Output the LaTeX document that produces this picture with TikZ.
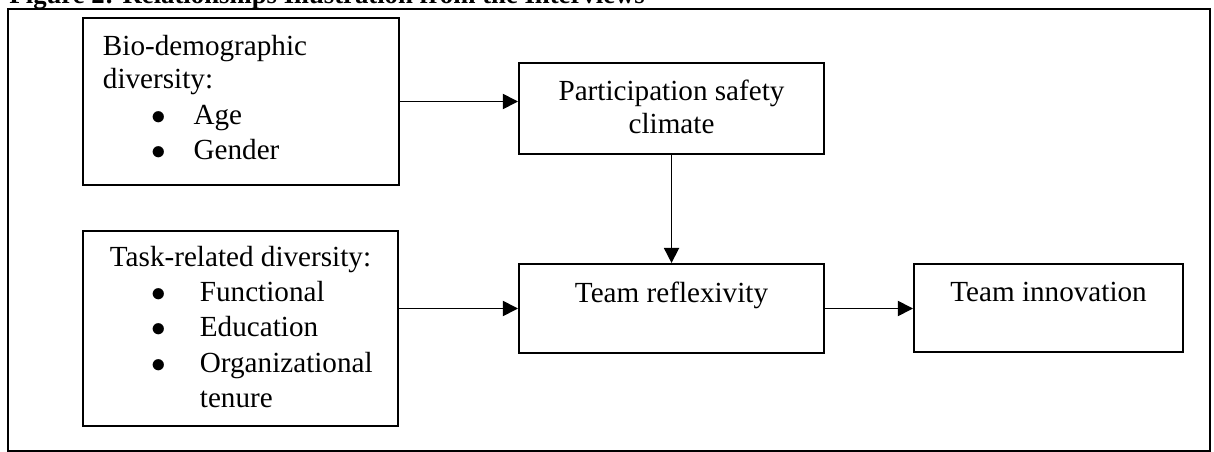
\documentclass[tikz,border=0pt]{standalone}
\usepackage{fontspec}
\setmainfont{Liberation Serif}
\usetikzlibrary{arrows.meta}

\newcommand{\bul}[2]{\makebox[#1][l]{\hspace*{28.1pt}$\bullet$}#2}

\begin{document}
\begin{tikzpicture}[x=0.4115pt,y=-0.4115pt]
  \tikzstyle{blk}=[draw,line width=0.85pt,inner sep=0pt,anchor=north west,font=\fontsize{12}{14.6}\selectfont]
  \tikzstyle{arr}=[-{Triangle[length=6.2pt,width=6.2pt]},line width=0.7pt]
  \useasboundingbox (0,0) rectangle (1214,452);

  \node[anchor=base west,inner sep=0pt,font=\fontsize{11}{13}\selectfont\bfseries] (title) at (9,3.5)
    {Figure 2: Relationships Illustration from the Interviews};
  \draw[line width=0.7pt] (8,9) rectangle (1210,451);

  % left column
  \node[blk,text height=15.6pt,text depth=53.1pt] (bio) at (82,17)
    {\parbox[t]{130pt}{\hspace*{8.2pt}Bio-demographic\\[-1.4pt]
     \hspace*{8.2pt}diversity:\\[0.6pt]
     \bul{45.5pt}{Age}\\[-0.2pt]
     \bul{45.5pt}{Gender}}};
  \node[blk,text height=14.4pt,text depth=65.8pt] (task) at (82,230)
    {\parbox[t]{129.6pt}{\makebox[129.6pt]{Task-related diversity:}\\
     \bul{48.1pt}{Functional}\\
     \bul{48.1pt}{Education}\\
     \bul{48.1pt}{Organizational}\\
     \hspace*{48.1pt}tenure}};

  % middle and right
  \node[blk,text height=15.6pt,text depth=21.8pt] (part) at (518,62)
    {\parbox[t]{125.5pt}{\centering Participation safety\\[-1.4pt] climate}};
  \node[blk,text height=16pt,text depth=20.6pt] (refl) at (518,263)
    {\parbox[t]{125.5pt}{\centering Team reflexivity}};
  \node[blk,text height=15.6pt,text depth=20.6pt] (innov) at (913,263)
    {\parbox[t]{110.7pt}{\centering Team innovation}};

  \draw[arr] (bio.east) -- (bio.east -| part.west);
  \draw[arr] (part.south) -- (refl.north);
  \draw[arr] (task.east |- refl.west) -- (refl.west);
  \draw[arr] (refl.east) -- (refl.east -| innov.west);
\end{tikzpicture}
\end{document}
